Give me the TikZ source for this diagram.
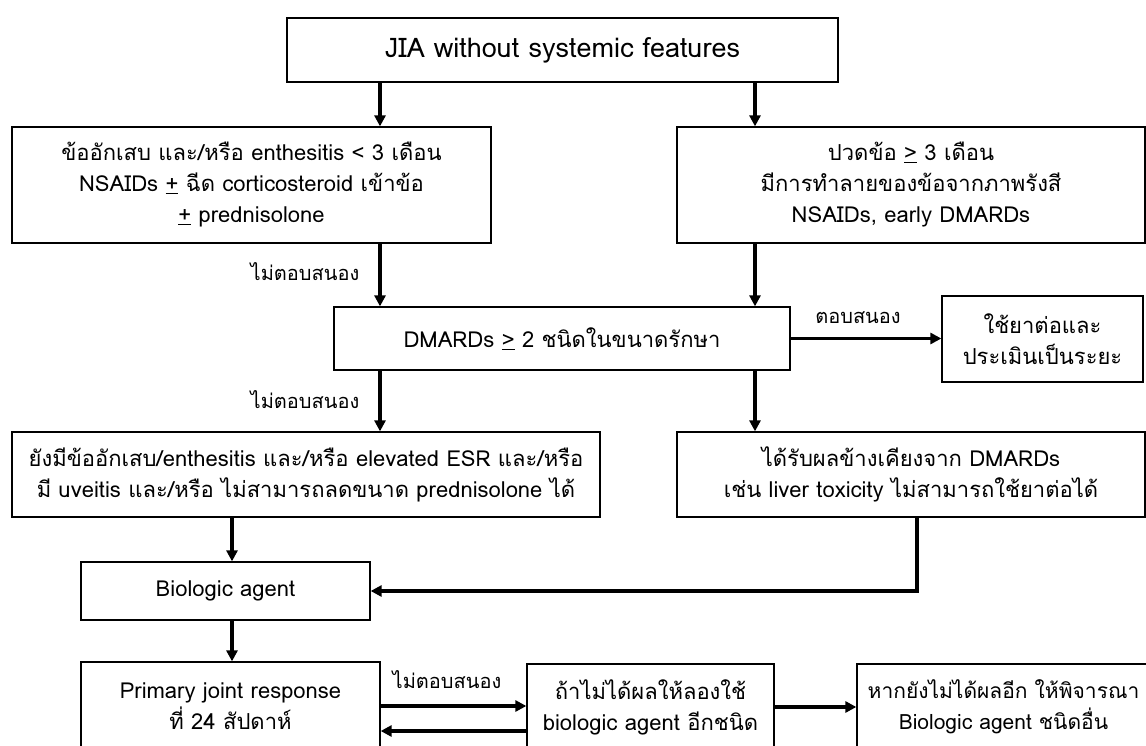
\documentclass[tikz,border=0pt]{standalone}
\usepackage{fontspec}
\setmainfont[Script=Thai]{Loma}
\usetikzlibrary{arrows.meta}
\begin{document}
\begin{tikzpicture}[x=1pt,y=-1pt,
  box/.style={draw, line width=1.3pt, inner sep=0pt, align=center,
    font=\fontsize{22}{31}\selectfont},
  arr/.style={line width=3.4pt, -{Triangle[length=11pt,width=11pt]}},
  lbl/.style={font=\fontsize{20}{24}\selectfont, inner sep=0pt}]
\useasboundingbox (0,0) rectangle (1146,746);
\clip (0,0) rectangle (1146,746);

% column guides for the vertical connectors
\coordinate (cl) at (380,0);
\coordinate (cr) at (755,0);
\coordinate (cb) at (232,0);
\coordinate (cx) at (917,0);

% boxes
\node[box, minimum width=551, minimum height=64, font=\fontsize{27}{31}\selectfont]
  (top) at (562.5,50) {\raisebox{-3pt}{JIA without systemic features}};
\node[box, minimum width=479, minimum height=116] (l1) at (251.5,185)
  {ข้ออักเสบ และ/หรือ enthesitis < 3 เดือน\\
   NSAIDs \underline{+} ฉีด corticosteroid เข้าข้อ\\
   \underline{+} prednisolone};
\node[box, minimum width=468, minimum height=116] (r1) at (911,185)
  {ปวดข้อ \underline{>} 3 เดือน\\
   มีการทำลายของข้อจากภาพรังสี\\
   NSAIDs, early DMARDs};
\node[box, minimum width=456, minimum height=63] (dm) at (562,338.5)
  {DMARDs \underline{>} 2 ชนิดในขนาดรักษา};
\node[box, minimum width=201, minimum height=86] (ok) at (1042.5,339)
  {ใช้ยาต่อและ\\ประเมินเป็นระยะ};
\node[box, minimum width=588, minimum height=85] (l2) at (306,474.5)
  {ยังมีข้ออักเสบ/enthesitis และ/หรือ elevated ESR และ/หรือ\\
   มี uveitis และ/หรือ ไม่สามารถลดขนาด prednisolone ได้};
\node[box, minimum width=468, minimum height=85] (r2) at (911,474.5)
  {ได้รับผลข้างเคียงจาก DMARDs\\
   เช่น liver toxicity ไม่สามารถใช้ยาต่อได้};
\node[box, minimum width=289, minimum height=58] (bio) at (225.5,591)
  {Biologic agent};
\node[box, minimum width=299, minimum height=88] (pj) at (230.5,706)
  {Primary joint response\\ที่ 24 สัปดาห์};
\node[box, minimum width=247, minimum height=86] (sw) at (650.5,707)
  {ถ้าไม่ได้ผลให้ลองใช้\\biologic agent อีกชนิด};
\node[box, minimum width=293, minimum height=86, font=\fontsize{21}{31}\selectfont]
  (ot) at (1003.5,707)
  {หากยังไม่ได้ผลอีก ให้พิจารณา\\Biologic agent ชนิดอื่น};

% connector labels
\node[lbl] (n1) at (305,272) {ไม่ตอบสนอง};
\node[lbl] (n2) at (305,400) {ไม่ตอบสนอง};
\node[lbl] (n3) at (858,318) {ตอบสนอง};
\node[lbl] (n4) at (447,680) {ไม่ตอบสนอง};

% connectors
\draw[arr] (top.south -| cl) -- (l1.north -| cl);
\draw[arr] (top.south -| cr) -- (r1.north -| cr);
\draw[arr] (l1.south -| cl) -- (dm.north -| cl);
\draw[arr] (r1.south -| cr) -- (dm.north -| cr);
\draw[arr] (dm.east) -- (ok.west |- dm.east);
\draw[arr] (dm.south -| cl) -- (l2.north -| cl);
\draw[arr] (dm.south -| cr) -- (r2.north -| cr);
\draw[arr] (l2.south -| cb) -- (bio.north -| cb);
\draw[arr] (r2.south -| cx) |- (bio.east);
\draw[arr] (bio.south -| cb) -- (pj.north -| cb);
\draw[arr] (pj.east) -- (sw.west |- pj.east);
\draw[arr] ([yshift=-24pt]sw.west) -- ([yshift=-24pt]sw.west -| pj.east);
\draw[arr] (sw.east) -- (ot.west);
\end{tikzpicture}
\end{document}
